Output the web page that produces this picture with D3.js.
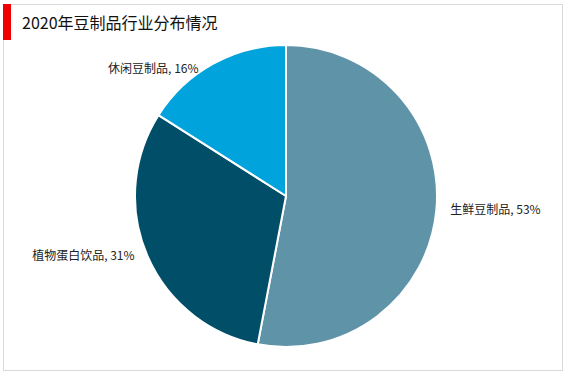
<!DOCTYPE html>
<html>
<head>
<meta charset="utf-8">
<script src="https://cdn.jsdelivr.net/npm/d3@7"></script>
<style>
  body { margin: 0; background: #fff; }
  svg text { font-family: "Noto Sans CJK SC", "Noto Sans", sans-serif; }
</style>
</head>
<body>
<svg id="chart"></svg>
<script>
// pie data
var categories = ['生鲜豆制品', '植物蛋白饮品', '休闲豆制品'];
var shares = [53, 31, 16];
var sliceColors = ['#5f93a8', '#004e68', '#00a3dc'];
var title = '2020年豆制品行业分布情况';

var width = 567, height = 378;
var svg = d3.select('#chart')
    .attr('width', width)
    .attr('height', height);

// frame + title
svg.append('rect')
  .attr('x', 3.5).attr('y', 4.5)
  .attr('width', 559).attr('height', 366)
  .attr('fill', '#fff')
  .attr('stroke', '#d9d9d9');

svg.append('rect')
  .attr('x', 3).attr('y', 4)
  .attr('width', 8).attr('height', 36)
  .attr('fill', '#f00000');

svg.append('text')
  .attr('x', 22).attr('y', 29)
  .attr('font-size', 16)
  .attr('fill', '#111')
  .text(title);

var cx = 286, cy = 196, radius = 151;
var g = svg.append('g').attr('transform', 'translate(' + cx + ',' + cy + ')');

var data = categories.map(function (c, i) {
  return { name: c, value: shares[i], color: sliceColors[i] };
});

var pie = d3.pie().sort(null).value(function (d) { return d.value; });
var arc = d3.arc().innerRadius(0).outerRadius(radius);
var arcs = pie(data);

g.selectAll('path')
  .data(arcs)
  .enter()
  .append('path')
  .attr('d', arc)
  .attr('fill', function (d) { return d.data.color; })
  .attr('stroke', '#fff')
  .attr('stroke-width', 2);

// labels just outside each slice
var rx = 165, ry = 150;
function mid(d) { return (d.startAngle + d.endAngle) / 2; }
g.selectAll('text.lbl')
  .data(arcs)
  .enter()
  .append('text')
  .attr('class', 'lbl')
  .attr('x', function (d) { return Math.sin(mid(d)) * rx - (Math.cos(mid(d)) > 0.5 ? 8 : 0); })
  .attr('y', function (d) { return -Math.cos(mid(d)) * ry + (Math.cos(mid(d)) > 0.5 ? 4 : 0); })
  .attr('dy', '0.35em')
  .attr('text-anchor', function (d) { return Math.sin(mid(d)) > 0 ? 'start' : 'end'; })
  .attr('font-size', 12)
  .attr('fill', '#222')
  .text(function (d) { return d.data.name + ', ' + d.data.value + '%'; });
</script>
</body>
</html>
